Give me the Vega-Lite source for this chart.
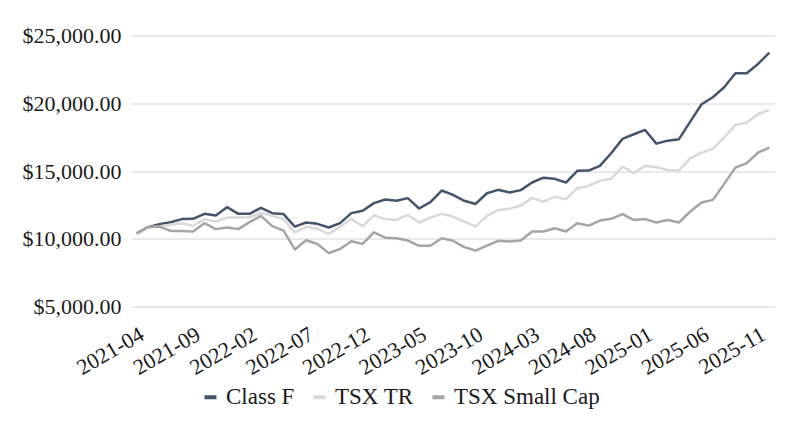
{
  "$schema": "https://vega.github.io/schema/vega-lite/v6.json",
  "width": 644,
  "height": 271,
  "autosize": {"type": "none"},
  "padding": {"left": 131, "top": 35.5, "right": 21, "bottom": 125.5},
  "background": "white",
  "config": {
    "font": "Liberation Serif",
    "axis": {"labelFont": "Liberation Serif"},
    "legend": {"labelFont": "Liberation Serif"},
    "view": {"stroke": null}
  },
  "data": {
    "values": [
      {"month": "2021-04", "Class F": 10360, "TSX TR": 10340, "TSX Small Cap": 10410},
      {"month": "2021-05", "Class F": 10860, "TSX TR": 10830, "TSX Small Cap": 10860},
      {"month": "2021-06", "Class F": 11080, "TSX TR": 10900, "TSX Small Cap": 10900},
      {"month": "2021-07", "Class F": 11220, "TSX TR": 11030, "TSX Small Cap": 10580},
      {"month": "2021-08", "Class F": 11450, "TSX TR": 11150, "TSX Small Cap": 10580},
      {"month": "2021-09", "Class F": 11470, "TSX TR": 10950, "TSX Small Cap": 10530},
      {"month": "2021-10", "Class F": 11840, "TSX TR": 11450, "TSX Small Cap": 11150},
      {"month": "2021-11", "Class F": 11710, "TSX TR": 11270, "TSX Small Cap": 10710},
      {"month": "2021-12", "Class F": 12330, "TSX TR": 11560, "TSX Small Cap": 10830},
      {"month": "2022-01", "Class F": 11840, "TSX TR": 11560, "TSX Small Cap": 10710},
      {"month": "2022-02", "Class F": 11840, "TSX TR": 11590, "TSX Small Cap": 11230},
      {"month": "2022-03", "Class F": 12280, "TSX TR": 11900, "TSX Small Cap": 11690},
      {"month": "2022-04", "Class F": 11890, "TSX TR": 11690, "TSX Small Cap": 10930},
      {"month": "2022-05", "Class F": 11820, "TSX TR": 11450, "TSX Small Cap": 10600},
      {"month": "2022-06", "Class F": 10900, "TSX TR": 10460, "TSX Small Cap": 9210},
      {"month": "2022-07", "Class F": 11200, "TSX TR": 10880, "TSX Small Cap": 9890},
      {"month": "2022-08", "Class F": 11100, "TSX TR": 10740, "TSX Small Cap": 9610},
      {"month": "2022-09", "Class F": 10830, "TSX TR": 10350, "TSX Small Cap": 8940},
      {"month": "2022-10", "Class F": 11150, "TSX TR": 10880, "TSX Small Cap": 9240},
      {"month": "2022-11", "Class F": 11890, "TSX TR": 11470, "TSX Small Cap": 9820},
      {"month": "2022-12", "Class F": 12060, "TSX TR": 10920, "TSX Small Cap": 9620},
      {"month": "2023-01", "Class F": 12630, "TSX TR": 11730, "TSX Small Cap": 10470},
      {"month": "2023-02", "Class F": 12900, "TSX TR": 11450, "TSX Small Cap": 10080},
      {"month": "2023-03", "Class F": 12800, "TSX TR": 11390, "TSX Small Cap": 10040},
      {"month": "2023-04", "Class F": 13000, "TSX TR": 11760, "TSX Small Cap": 9870},
      {"month": "2023-05", "Class F": 12230, "TSX TR": 11200, "TSX Small Cap": 9480},
      {"month": "2023-06", "Class F": 12700, "TSX TR": 11560, "TSX Small Cap": 9480},
      {"month": "2023-07", "Class F": 13560, "TSX TR": 11840, "TSX Small Cap": 10040},
      {"month": "2023-08", "Class F": 13240, "TSX TR": 11640, "TSX Small Cap": 9850},
      {"month": "2023-09", "Class F": 12800, "TSX TR": 11270, "TSX Small Cap": 9380},
      {"month": "2023-10", "Class F": 12570, "TSX TR": 10900, "TSX Small Cap": 9130},
      {"month": "2023-11", "Class F": 13360, "TSX TR": 11690, "TSX Small Cap": 9500},
      {"month": "2023-12", "Class F": 13610, "TSX TR": 12130, "TSX Small Cap": 9850},
      {"month": "2024-01", "Class F": 13410, "TSX TR": 12210, "TSX Small Cap": 9790},
      {"month": "2024-02", "Class F": 13590, "TSX TR": 12450, "TSX Small Cap": 9870},
      {"month": "2024-03", "Class F": 14150, "TSX TR": 13000, "TSX Small Cap": 10530},
      {"month": "2024-04", "Class F": 14510, "TSX TR": 12740, "TSX Small Cap": 10530},
      {"month": "2024-05", "Class F": 14420, "TSX TR": 13110, "TSX Small Cap": 10780},
      {"month": "2024-06", "Class F": 14150, "TSX TR": 12920, "TSX Small Cap": 10530},
      {"month": "2024-07", "Class F": 15010, "TSX TR": 13730, "TSX Small Cap": 11150},
      {"month": "2024-08", "Class F": 15030, "TSX TR": 13900, "TSX Small Cap": 10970},
      {"month": "2024-09", "Class F": 15380, "TSX TR": 14270, "TSX Small Cap": 11340},
      {"month": "2024-10", "Class F": 16310, "TSX TR": 14420, "TSX Small Cap": 11470},
      {"month": "2024-11", "Class F": 17370, "TSX TR": 15330, "TSX Small Cap": 11820},
      {"month": "2024-12", "Class F": 17710, "TSX TR": 14840, "TSX Small Cap": 11390},
      {"month": "2025-01", "Class F": 18030, "TSX TR": 15380, "TSX Small Cap": 11450},
      {"month": "2025-02", "Class F": 17020, "TSX TR": 15280, "TSX Small Cap": 11200},
      {"month": "2025-03", "Class F": 17240, "TSX TR": 15080, "TSX Small Cap": 11390},
      {"month": "2025-04", "Class F": 17350, "TSX TR": 15030, "TSX Small Cap": 11200},
      {"month": "2025-05", "Class F": 18640, "TSX TR": 15950, "TSX Small Cap": 12010},
      {"month": "2025-06", "Class F": 19930, "TSX TR": 16360, "TSX Small Cap": 12670},
      {"month": "2025-07", "Class F": 20440, "TSX TR": 16630, "TSX Small Cap": 12870},
      {"month": "2025-08", "Class F": 21180, "TSX TR": 17490, "TSX Small Cap": 14050},
      {"month": "2025-09", "Class F": 22210, "TSX TR": 18400, "TSX Small Cap": 15250},
      {"month": "2025-10", "Class F": 22210, "TSX TR": 18570, "TSX Small Cap": 15580},
      {"month": "2025-11", "Class F": 22900, "TSX TR": 19210, "TSX Small Cap": 16360},
      {"month": "2025-12", "Class F": 23730, "TSX TR": 19510, "TSX Small Cap": 16730}
    ]
  },
  "transform": [{"fold": ["Class F", "TSX TR", "TSX Small Cap"], "as": ["series", "value"]}],
  "mark": {"type": "line", "strokeWidth": 2.5, "strokeJoin": "round"},
  "encoding": {
    "x": {
      "field": "month",
      "type": "ordinal",
      "scale": {"type": "point", "padding": 0.5},
      "axis": {
        "values": ["2021-04", "2021-09", "2022-02", "2022-07", "2022-12", "2023-05", "2023-10", "2024-03", "2024-08", "2025-01", "2025-06", "2025-11"],
        "labelAngle": -30,
        "domain": false,
        "ticks": false,
        "grid": false,
        "title": null,
        "labelFont": "Liberation Serif",
        "labelFontSize": 22,
        "labelColor": "#1a1a1a",
        "labelPadding": 17,
        "labelDx": 9,
        "labelDy": 0
      }
    },
    "y": {
      "field": "value",
      "type": "quantitative",
      "scale": {"domain": [5000, 25000], "nice": false, "zero": false},
      "axis": {
        "values": [5000, 10000, 15000, 20000, 25000],
        "format": "$,.2f",
        "domain": false,
        "ticks": false,
        "gridColor": "#d4d4d4",
        "labelFont": "Liberation Serif",
        "labelFontSize": 22,
        "labelColor": "#1a1a1a",
        "labelPadding": 10,
        "title": null
      }
    },
    "color": {
      "field": "series",
      "type": "nominal",
      "scale": {"domain": ["Class F", "TSX TR", "TSX Small Cap"], "range": ["#44546A", "#D9D9D9", "#A5A5A5"]},
      "legend": {
        "orient": "none",
        "legendX": 68,
        "legendY": 350,
        "padding": 0,
        "direction": "horizontal",
        "title": null,
        "symbolType": "stroke",
        "symbolSize": 144,
        "symbolStrokeWidth": 4,
        "labelFont": "Liberation Serif",
        "labelFontSize": 23,
        "labelColor": "#1a1a1a",
        "labelOffset": 4,
        "columnPadding": 10
      }
    }
  }
}
